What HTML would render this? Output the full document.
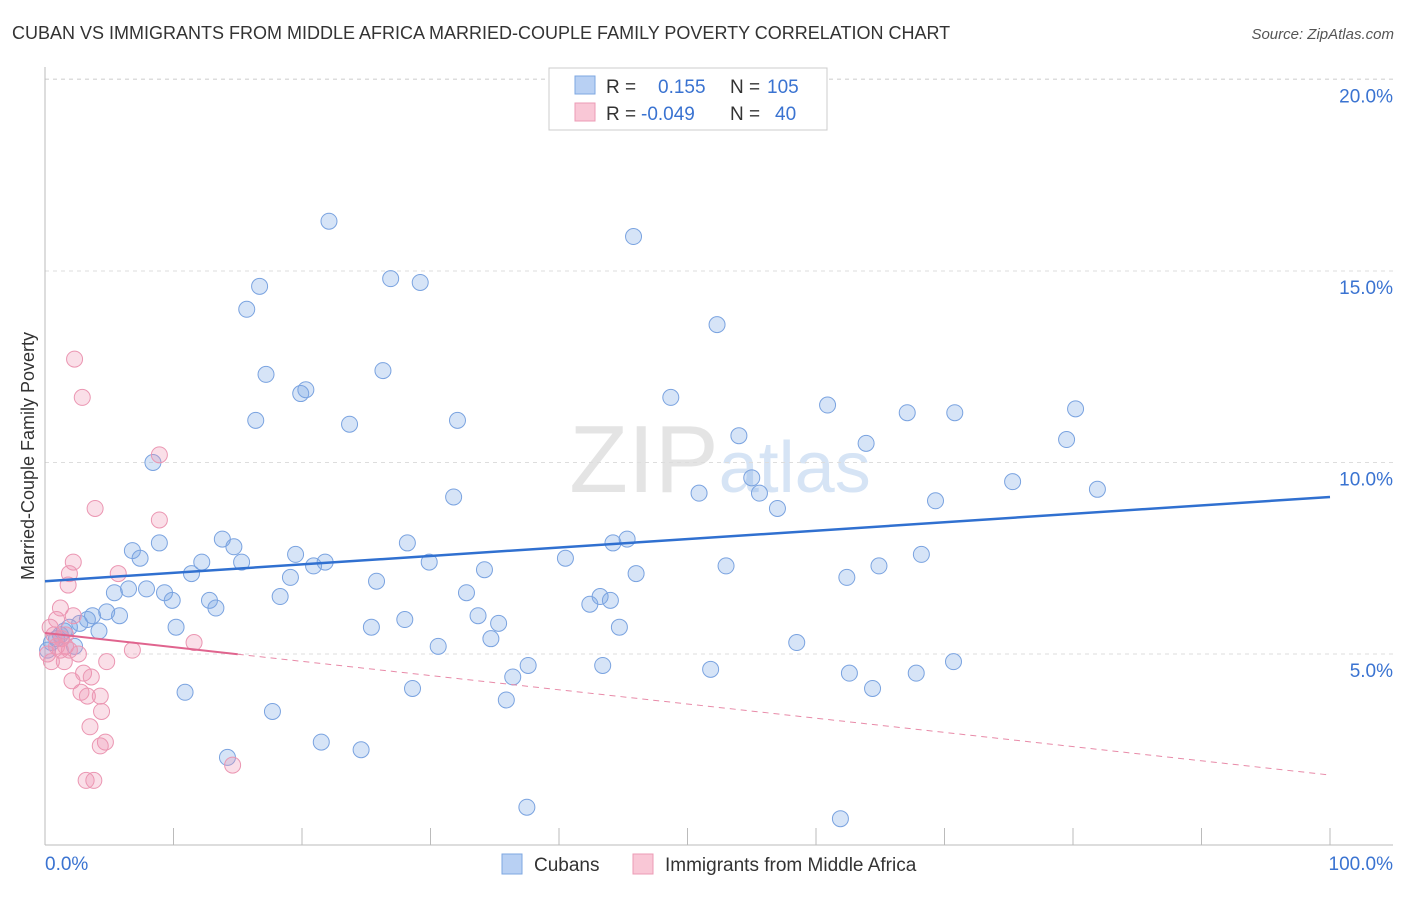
<!DOCTYPE html>
<html><head><meta charset="utf-8"><style>
body{margin:0;background:#fff;font-family:"Liberation Sans",sans-serif;}
svg text{font-family:"Liberation Sans",sans-serif;}
</style></head><body>
<svg id="chart" width="1406" height="892" xmlns="http://www.w3.org/2000/svg">
<text x="12" y="39" font-size="18" fill="#333">CUBAN VS IMMIGRANTS FROM MIDDLE AFRICA MARRIED-COUPLE FAMILY POVERTY CORRELATION CHART</text>
<text x="1394" y="39" font-size="15" fill="#555" font-style="italic" text-anchor="end">Source: ZipAtlas.com</text>
<text x="720" y="492" font-size="96" fill="#e4e4e4" text-anchor="middle" font-family="Liberation Serif">ZIP<tspan fill="#d6e4f5" font-family="Liberation Sans" font-size="72">atlas</tspan></text>
<text transform="translate(34,456) rotate(-90)" font-size="18" fill="#333" text-anchor="middle">Married-Couple Family Poverty</text>
<g id="grid"></g><g id="marks"></g>
<g>
<rect x="549" y="68" width="278" height="62" fill="#fff" stroke="#ccc"/>
<rect x="575" y="76" width="20" height="18" fill="#b8d0f3" stroke="#7ea7e2"/>
<rect x="575" y="103" width="20" height="18" fill="#f9c7d6" stroke="#ec9bb5"/>
<text x="606" y="93" font-size="19" fill="#333">R = <tspan x="658" fill="#3a73d1">0.155</tspan><tspan x="730" fill="#333">N = </tspan><tspan x="767" fill="#3a73d1">105</tspan></text>
<text x="606" y="120" font-size="19" fill="#333">R = <tspan x="641" fill="#3a73d1">-0.049</tspan><tspan x="730" fill="#333">N = </tspan><tspan x="775" fill="#3a73d1">40</tspan></text>
</g>
<g>
<rect x="502" y="854" width="20" height="20" fill="#b8d0f3" stroke="#7ea7e2"/>
<text x="534" y="871" font-size="19" fill="#333">Cubans</text>
<rect x="633" y="854" width="20" height="20" fill="#f9c7d6" stroke="#ec9bb5"/>
<text x="665" y="871" font-size="19" fill="#333">Immigrants from Middle Africa</text>
</g>
</svg>
<script>
const yTicks=[5,10,15,20];
const yTickLabels=["5.0%","10.0%","15.0%","20.0%"];
const xTicks=[0,10,20,30,40,50,60,70,80,90,100];
const blueX=[22.1,45.8,26.9,29.2,16.7,15.7,52.3,17.2,26.3,20.3,19.9,48.7,60.9,80.2,16.4,23.7,32.1,67.1,70.8,54.0,63.9,79.5,8.4,31.8,50.9,55.0,55.6,69.3,75.3,81.9,57.0,13.8,6.8,8.9,14.7,7.4,12.2,15.3,19.5,21.8,20.9,28.2,29.9,40.5,44.2,45.3,68.2,64.9,53.0,11.4,19.1,25.8,34.2,46.0,62.4,5.4,6.5,7.9,9.3,9.9,12.8,13.3,18.3,32.8,42.4,43.2,44.0,4.8,5.8,3.7,3.3,2.7,1.9,4.2,10.2,25.4,28.0,33.7,35.3,34.7,44.7,1.2,0.5,0.2,2.3,30.6,58.5,37.6,43.4,51.8,70.7,36.4,62.6,67.8,64.4,10.9,28.6,35.9,17.7,21.5,14.2,24.6,37.5,61.9,0.9,1.5];
const blueY=[16.3,15.9,14.8,14.7,14.6,14.0,13.6,12.3,12.4,11.9,11.8,11.7,11.5,11.4,11.1,11.0,11.1,11.3,11.3,10.7,10.5,10.6,10.0,9.1,9.2,9.6,9.2,9.0,9.5,9.3,8.8,8.0,7.7,7.9,7.8,7.5,7.4,7.4,7.6,7.4,7.3,7.9,7.4,7.5,7.9,8.0,7.6,7.3,7.3,7.1,7.0,6.9,7.2,7.1,7.0,6.6,6.7,6.7,6.6,6.4,6.4,6.2,6.5,6.6,6.3,6.5,6.4,6.1,6.0,6.0,5.9,5.8,5.7,5.6,5.7,5.7,5.9,6.0,5.8,5.4,5.7,5.5,5.3,5.1,5.2,5.2,5.3,4.7,4.7,4.6,4.8,4.4,4.5,4.5,4.1,4.0,4.1,3.8,3.5,2.7,2.3,2.5,1.0,0.7,5.4,5.6];
const pinkX=[2.3,2.9,8.9,3.9,8.9,2.2,5.7,1.9,1.8,1.2,0.9,2.2,0.4,0.7,1.3,1.6,1.9,2.6,1.5,0.5,0.2,6.8,4.8,11.6,3.0,2.1,3.6,2.8,3.3,4.3,4.4,3.5,4.7,4.3,3.2,3.8,14.6,0.9,1.2,1.6];
const pinkY=[12.7,11.7,10.2,8.8,8.5,7.4,7.1,7.1,6.8,6.2,5.9,6.0,5.7,5.5,5.4,5.2,5.1,5.0,4.8,4.8,5.0,5.1,4.8,5.3,4.5,4.3,4.4,4.0,3.9,3.9,3.5,3.1,2.7,2.6,1.7,1.7,2.1,5.2,5.1,5.5];
const blueTrend=[6.9,9.1];   // value at x=0 and x=100
const pinkTrend=[5.55,1.84]; // value at x=0 and x=100
const pinkSolidEnd=15;

const X0=45,X1=1330,YB=845.5,YPX=38.3;
const sx=v=>X0+(X1-X0)*v/100;
const sy=v=>YB-YPX*v;
const NS="http://www.w3.org/2000/svg";
function mk(parent,tag,attrs){const e=document.createElementNS(NS,tag);for(const k in attrs)e.setAttribute(k,attrs[k]);parent.appendChild(e);return e;}
const grid=document.getElementById('grid'),marks=document.getElementById('marks');
yTicks.forEach((t,i)=>{
  const l=mk(grid,'line',{x1:45,x2:1393,y1:sy(t),y2:sy(t),stroke:'#ddd','stroke-dasharray':'4,4'});
  
  
  const tx=mk(grid,'text',{x:1393,y:sy(t)+23,'font-size':19,fill:'#3a73d1','text-anchor':'end'});
  tx.textContent=yTickLabels[i];
  
  
});
const tl=mk(grid,'line',{x1:45,x2:1393,y1:79,y2:79,stroke:'#ddd','stroke-dasharray':'4,4'});


const ax=mk(grid,'line',{x1:45,x2:1393,y1:845,y2:845,stroke:'#bbb'});


const ay=mk(grid,'line',{x1:45,x2:45,y1:67,y2:845,stroke:'#bbb'});


xTicks.forEach(t=>{
  const l=mk(grid,'line',{x1:sx(t),x2:sx(t),y1:828,y2:845,stroke:'#bbb'});
  
  
});
const xl0=mk(grid,'text',{x:45,y:870,'font-size':19,fill:'#3a73d1'});xl0.textContent='0.0%';


const xl1=mk(grid,'text',{x:1393,y:870,'font-size':19,fill:'#3a73d1','text-anchor':'end'});xl1.textContent='100.0%';



blueX.forEach((x,i)=>{
  const c=mk(marks,'circle',{cx:sx(x),cy:sy(blueY[i]),r:8,fill:'rgba(120,165,230,0.3)',stroke:'#7aa3e0','stroke-width':1});
  
  
});
pinkX.forEach((x,i)=>{
  const c=mk(marks,'circle',{cx:sx(x),cy:sy(pinkY[i]),r:8,fill:'rgba(240,150,180,0.3)',stroke:'#eb96b2','stroke-width':1});
  
  
});
const pAt=x=>pinkTrend[0]+(pinkTrend[1]-pinkTrend[0])*x/100;
const bl=mk(marks,'line',{x1:sx(0),y1:sy(blueTrend[0]),x2:sx(100),y2:sy(blueTrend[1]),stroke:'#3070d0','stroke-width':2.5});


const ps=mk(marks,'line',{x1:sx(0),y1:sy(pAt(0)),x2:sx(pinkSolidEnd),y2:sy(pAt(pinkSolidEnd)),stroke:'#e0648e','stroke-width':2});


const pd=mk(marks,'line',{x1:sx(pinkSolidEnd),y1:sy(pAt(pinkSolidEnd)),x2:sx(100),y2:sy(pAt(100)),stroke:'#e88aa8','stroke-width':1,'stroke-dasharray':'6,5'});


</script>
</body></html>
